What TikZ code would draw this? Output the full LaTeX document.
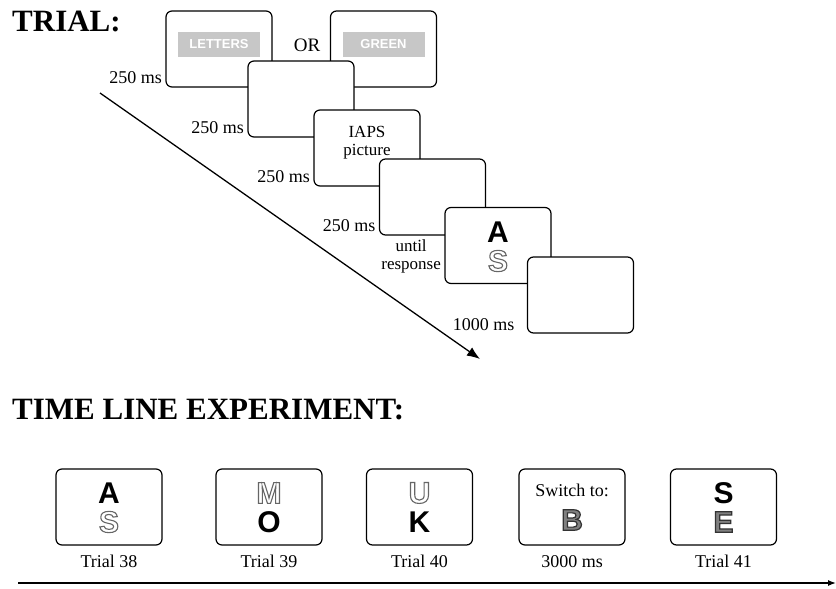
\documentclass[tikz,border=0pt]{standalone}
\usepackage{fontspec}
\setmainfont{Liberation Serif}
\newfontfamily\arial{Liberation Sans}
\usetikzlibrary{positioning}
\usetikzlibrary{arrows.meta}
\newcommand{\hollow}[1]{\special{pdf:literal direct 1 Tr 1.1 w 0.4 G}#1\special{pdf:literal direct 0 Tr 0.4 w}}
\newcommand{\shaded}[1]{{\color{black!50}\special{pdf:literal direct 2 Tr 1.2 w 0.2 G}#1\special{pdf:literal direct 0 Tr 0.4 w}}}

\begin{document}
\begin{tikzpicture}[x=1pt,y=-1pt,
  screen/.style={draw, line width=1.2pt, rounded corners=6pt, fill=white,
    minimum width=106pt, minimum height=76pt, inner sep=0pt},
  dur/.style={font=\fontsize{18}{18}\selectfont, anchor=base east},
  tag/.style={fill=black!22, text=white, font=\arial\bfseries\fontsize{13}{13}\selectfont,
    minimum width=82pt, minimum height=25pt, inner sep=0pt},
  letter/.style={font=\arial\bfseries\fontsize{30}{30}\selectfont, inner sep=0pt},
  caption/.style={font=\fontsize{18}{18}\selectfont},
  heading/.style={font=\bfseries\fontsize{31}{31}\selectfont, anchor=base west, inner sep=0pt}]
\useasboundingbox (0,0) rectangle (836,589);

% trial
\node[heading] (trial) at (12,31) {TRIAL:};
\coordinate (go) at (100,93);
\coordinate (stop) at (480,359);
\draw[line width=1.3pt, -{Latex[length=13pt,width=10pt]}] (go) -- (stop);

\node[screen] (s1) at (219,49) {};
\node[screen] (s1b) at (383.5,49) {};
\node[tag] (letters) at (219,44.5) {LETTERS};
\node[tag] (green) at (383.5,44.5) {GREEN};
\node[font=\fontsize{19}{19}\selectfont] (or) at (307,45) {OR};
\node[screen] (s2) at (301,99) {};
\node[screen] (s3) at (367,148) {};
\node[screen] (s4) at (432.5,197) {};
\node[screen] (s5) at (498,245.5) {};
\node[screen] (s6) at (580.5,295) {};

\node[caption, align=center, font=\fontsize{17}{18}\selectfont, anchor=north]
  (iaps) at ([yshift=-13pt]s3.north) {IAPS\\picture};
\node[letter] (a5) at ([yshift=13.5pt]s5.center) {A};
\node[letter] (b5) at ([yshift=-15.5pt]s5.center) {\hollow{S}};

\node[dur] (d1) at ([yshift=4pt]s1.south west) {250 ms};
\node[dur] (d2) at ([yshift=4pt]s2.south west) {250 ms};
\node[dur] (d3) at ([yshift=4pt]s3.south west) {250 ms};
\node[dur] (d4) at ([yshift=4pt]s4.south west) {250 ms};
\node[caption, align=center, font=\fontsize{17}{18}\selectfont, anchor=north east]
  (wait) at ([yshift=9pt]s5.west) {until\\response};
\node[dur] (d6) at ([xshift=-9pt,yshift=3pt]s6.south west) {1000 ms};

% time line
\node[heading] (timeline) at (12,419) {TIME LINE EXPERIMENT:};
\node[screen] (t1) at (109,507) {};
\node[screen] (t2) at (269,507) {};
\node[screen] (t3) at (419.5,507) {};
\node[screen] (t4) at (572,507) {};
\node[screen] (t5) at (723.5,507) {};

\node[letter] (a1) at ([yshift=14pt]t1.center) {A};
\node[letter] (b1) at ([yshift=-15pt]t1.center) {\hollow{S}};
\node[letter] (a2) at ([yshift=14pt]t2.center) {\hollow{M}};
\node[letter] (b2) at ([yshift=-15pt]t2.center) {O};
\node[letter] (a3) at ([yshift=14pt]t3.center) {\hollow{U}};
\node[letter] (b3) at ([yshift=-15pt]t3.center) {K};
\node[caption] (a4) at ([yshift=17pt]t4.center) {Switch to:};
\node[letter] (b4) at ([yshift=-13pt]t4.center) {\shaded{B}};
\node[letter] (a5b) at ([yshift=14pt]t5.center) {S};
\node[letter] (b5b) at ([yshift=-15pt]t5.center) {\shaded{E}};

\node[caption, below=6pt of t1] (c1) {Trial 38};
\node[caption, below=6pt of t2] (c2) {Trial 39};
\node[caption, below=6pt of t3] (c3) {Trial 40};
\node[caption, below=6pt of t4] (c4) {3000 ms};
\node[caption, below=6pt of t5] (c5) {Trial 41};

\coordinate (t0) at (18,583);
\coordinate (tend) at (836,583);
\draw[line width=1.3pt, -{Latex[length=8pt]}] (t0) -- (tend);
\end{tikzpicture}
\end{document}
